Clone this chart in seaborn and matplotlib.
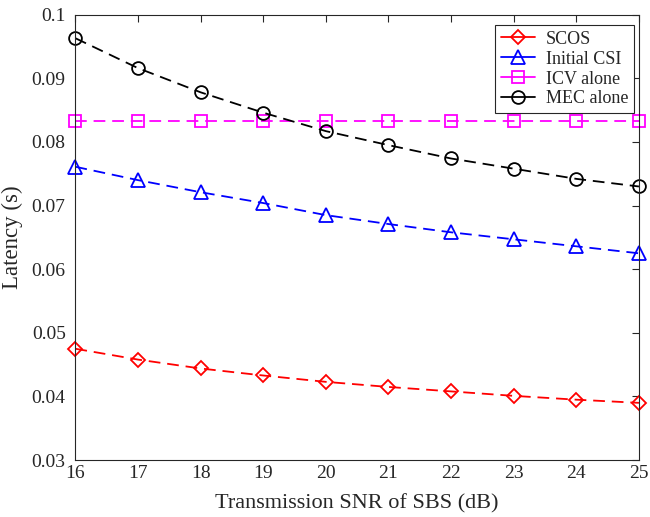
import matplotlib
matplotlib.use("Agg")
import matplotlib.pyplot as plt
from matplotlib.lines import Line2D
import seaborn as sns
import pandas as pd

snr_db = [16, 17, 18, 19, 20, 21, 22, 23, 24, 25]
scos = [0.0475, 0.0458, 0.0444, 0.0433, 0.0423, 0.0415, 0.0408, 0.0401, 0.0395, 0.0390]
initial_csi = [0.0761, 0.0740, 0.0721, 0.0704, 0.0685, 0.0671, 0.0658, 0.0647, 0.0636, 0.0625]
icv_alone = [0.0833] * 10
mec_alone = [0.0963, 0.0916, 0.0878, 0.0846, 0.0817, 0.0795, 0.0774, 0.0758, 0.0742, 0.0730]

series_names = ["SCOS", "Initial CSI", "ICV alone", "MEC alone"]
series_vals = [scos, initial_csi, icv_alone, mec_alone]
colors = ["#ff0000", "#0000ff", "#ff00ff", "#000000"]
markers = ["D", "^", "s", "o"]
marker_sizes = [6.8, 10.5, 8.5, 9.2]

sns.set_theme(style="white")
plt.rcParams["font.family"] = ["Liberation Serif", "DejaVu Serif"]

fig = plt.figure(figsize=(6.5, 5.17), dpi=100)
ax = fig.add_axes([0.116, 0.110, 0.867, 0.8616])

axis_gray = "#262626"
for name, vals, c, m, ms in zip(series_names, series_vals, colors, markers, marker_sizes):
    df = pd.DataFrame({"snr": snr_db, "latency": vals})
    sns.lineplot(data=df, x="snr", y="latency", ax=ax, color=c, marker=m,
                 markersize=ms, linewidth=1.3, legend=False)

for line, c in zip(ax.lines, colors):
    line.set_linestyle((0, (6.5, 3.8)))
    line.set_markerfacecolor("none")
    line.set_markeredgecolor(c)
    line.set_markeredgewidth(1.3)
    line.set_clip_on(False)

ax.set_xlim(16, 25)
ax.set_ylim(0.03, 0.1)
ax.set_xticks(snr_db)
ax.set_yticks([0.03, 0.04, 0.05, 0.06, 0.07, 0.08, 0.09, 0.1])
ax.set_yticklabels(["0.03", "0.04", "0.05", "0.06", "0.07", "0.08", "0.09", "0.1"])
ax.tick_params(direction="in", length=5, width=0.8, top=True, right=True,
               labelsize=14, colors=axis_gray)
ax.tick_params(axis="x", pad=3.5)
ax.tick_params(axis="y", pad=7)
for s in ax.spines.values():
    s.set_color(axis_gray)
    s.set_linewidth(0.8)

ax.set_xlabel("Transmission SNR of SBS (dB)", fontsize=16, color=axis_gray, labelpad=9)
ax.set_ylabel("Latency (s)", fontsize=16.5, color=axis_gray, labelpad=6)

handles = [Line2D([0], [0], color=c, marker=m, markersize=ms, linewidth=1.3,
                  markerfacecolor="none", markeredgewidth=1.3)
           for c, m, ms in zip(colors, markers, marker_sizes)]
leg = ax.legend(handles, series_names, loc="upper right",
                bbox_to_anchor=(0.991, 0.976), borderaxespad=0, fontsize=13,
                frameon=True, fancybox=False, framealpha=1, edgecolor=axis_gray,
                handlelength=1.9, borderpad=0.3, labelspacing=0.16,
                handletextpad=0.6)
leg.get_frame().set_linewidth(0.8)

fig.savefig("out.png", dpi=100)
